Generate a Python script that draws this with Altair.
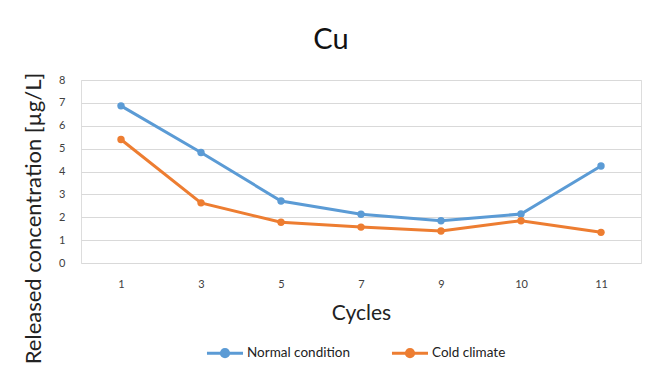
import altair as alt
import pandas as pd

cycles = ["1", "3", "5", "7", "9", "10", "11"]
normal = [6.87, 4.83, 2.71, 2.13, 1.85, 2.14, 4.24]
cold = [5.40, 2.63, 1.78, 1.57, 1.40, 1.85, 1.34]
series = ["Normal condition", "Cold climate"]
colors = ["#5b9bd5", "#ed7d31"]

rows = []
for c, n, k in zip(cycles, normal, cold):
    rows.append({"Cycle": c, "Series": series[0], "Value": n})
    rows.append({"Cycle": c, "Series": series[1], "Value": k})
df = pd.DataFrame(rows)

FONT = "Lato"
legend_sym = "M-1,0 L1,0 M0.2,0 A0.2,0.2 0 1,1 -0.2,0 A0.2,0.2 0 1,1 0.2,0 Z"

chart = alt.Chart(df).mark_line(
    strokeWidth=3, point=alt.OverlayMarkDef(size=55, filled=True, opacity=1)
).encode(
    x=alt.X("Cycle:N", sort=cycles, title="Cycles",
            scale=alt.Scale(paddingInner=0, paddingOuter=0.5),
            axis=alt.Axis(labelAngle=0, domain=False, ticks=False, labelPadding=15,
                          labelFontSize=11, labelColor="#404040", titleFontSize=21,
                          titleFontWeight="normal", titleColor="#222222", titlePadding=13,
                          labelFont=FONT, titleFont=FONT)),
    y=alt.Y("Value:Q", title="Released concentration [µg/L]",
            scale=alt.Scale(domain=[0, 8]),
            axis=alt.Axis(values=list(range(9)), domain=False, ticks=False, labelPadding=16,
                          labelFontSize=11, labelColor="#404040", titleFontSize=22,
                          titleFontWeight="normal", titleColor="#222222", titlePadding=13,
                          titleY=138,
                          labelFont=FONT, titleFont=FONT, gridColor="#d9d9d9",
                          gridWidth=1.2)),
    color=alt.Color("Series:N", sort=series,
                    scale=alt.Scale(domain=series, range=colors),
                    legend=alt.Legend(title=None, orient="none", direction="horizontal",
                                      legendX=124, legendY=253, symbolType=legend_sym,
                                      symbolSize=1300, symbolStrokeWidth=3,
                                      labelFontSize=13.5, labelFont=FONT,
                                      labelColor="#222222", columnPadding=35,
                                      labelOffset=2)),
).properties(
    width=560, height=183,
    title=alt.TitleParams("Cu", fontSize=29, font=FONT, fontWeight="normal",
                          color="#111111", dx=-30, offset=17),
    autosize=alt.AutoSizeParams(type="none"),
    padding={"left": 81, "top": 80, "right": 12, "bottom": 122},
).configure_view(stroke=None).configure(background="white")

chart.save("out.html", embed_options={"renderer": "svg", "actions": False})
